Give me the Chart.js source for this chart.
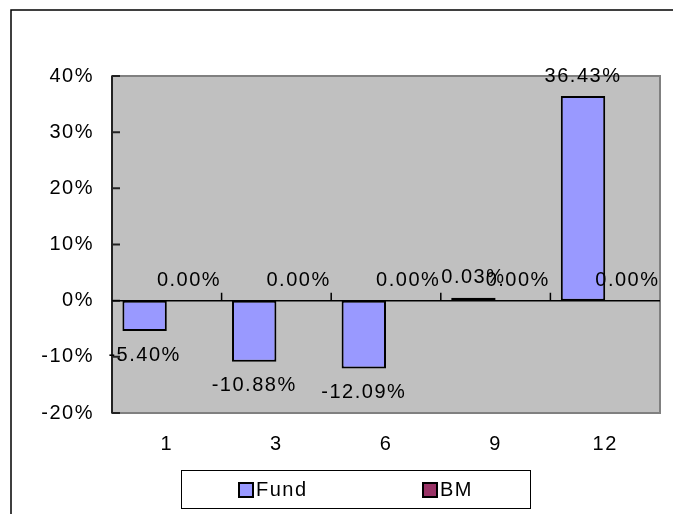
<!DOCTYPE html>
<html>
<head>
<meta charset="utf-8">
<script src="https://cdn.jsdelivr.net/npm/chart.js@4"></script>
<style>
  html, body { margin: 0; padding: 0; background: #fff; }
  #wrap { width: 673px; height: 514px; position: relative; }
</style>
</head>
<body>
<div id="wrap"><canvas id="returnsChart"></canvas></div>
<script>
document.addEventListener("DOMContentLoaded", function () {
    // Periods (months) and returns in percent
    const periods = ["1", "3", "6", "9", "12"];
    const fundValues = [-5.40, -10.88, -12.09, 0.03, 36.43];
    const bmValues = [0, 0, 0, 0, 0];
    const yTicks = [-20, -10, 0, 10, 20, 30, 40];

    const FONT = "'Liberation Sans', Arial, sans-serif";
    const FONT_SIZE = 20;
    const SPACING = "1.5px";

    // background, outer frame, plot area, axis lines, labels, legend
    const framePlugin = {
        id: "frame",
        beforeLayout(chart) {
            chart.ctx.letterSpacing = SPACING;
        },
        beforeDraw(chart) {
            const ctx = chart.ctx;
            const a = chart.chartArea;
            ctx.letterSpacing = SPACING;
            ctx.save();
            ctx.fillStyle = "#ffffff";
            ctx.fillRect(0, 0, chart.width, chart.height);
            ctx.strokeStyle = "#000000";
            ctx.lineWidth = 1.5;
            ctx.strokeRect(11, 10, chart.width + 20, chart.height + 20);
            ctx.fillStyle = "#c0c0c0";
            ctx.fillRect(a.left, a.top, a.right - a.left, a.bottom - a.top);
            ctx.strokeStyle = "#808080";
            ctx.lineWidth = 2;
            ctx.strokeRect(a.left, a.top, a.right - a.left, a.bottom - a.top);
            ctx.restore();
        },
        beforeDatasetsDraw(chart) {
            const ctx = chart.ctx;
            const a = chart.chartArea;
            const x = chart.scales.x;
            const y = chart.scales.y;
            const y0 = y.getPixelForValue(0);
            ctx.save();
            ctx.strokeStyle = "#222222";
            ctx.lineWidth = 2;
            // y axis line and inward ticks
            ctx.beginPath();
            ctx.moveTo(a.left, a.top);
            ctx.lineTo(a.left, a.bottom);
            yTicks.forEach(function (v) {
                const py = y.getPixelForValue(v);
                ctx.moveTo(a.left, py);
                ctx.lineTo(a.left + 8, py);
            });
            ctx.stroke();
            // zero line with category ticks
            ctx.lineWidth = 1.5;
            ctx.strokeStyle = "#000000";
            ctx.beginPath();
            ctx.moveTo(a.left, y0);
            ctx.lineTo(a.right, y0);
            for (let i = 1; i < periods.length; i++) {
                const px = (x.getPixelForValue(i - 1) + x.getPixelForValue(i)) / 2;
                ctx.moveTo(px, y0);
                ctx.lineTo(px, y0 - 8);
            }
            ctx.stroke();
            ctx.restore();
        },
        afterDatasetsDraw(chart) {
            // value labels above / below each bar
            const ctx = chart.ctx;
            ctx.save();
            ctx.font = FONT_SIZE + "px " + FONT;
            ctx.fillStyle = "#000000";
            ctx.textAlign = "center";
            ctx.textBaseline = "middle";
            chart.data.datasets.forEach(function (ds, di) {
                const meta = chart.getDatasetMeta(di);
                meta.data.forEach(function (bar, i) {
                    const v = ds.data[i];
                    const py = v < 0 ? bar.y + 24 : bar.y - 20;
                    ctx.fillText(v.toFixed(2) + "%", bar.x, py);
                });
            });
            ctx.restore();
        },
        afterDraw(chart) {
            // boxed legend
            const ctx = chart.ctx;
            ctx.save();
            ctx.strokeStyle = "#000000";
            ctx.lineWidth = 1;
            ctx.strokeRect(181.5, 470.5, 349, 38);
            ctx.font = FONT_SIZE + "px " + FONT;
            ctx.textBaseline = "middle";
            const starts = [239, 423];
            chart.data.datasets.forEach(function (ds, di) {
                const sx = starts[di];
                ctx.fillStyle = ds.backgroundColor;
                ctx.fillRect(sx, 483, 14, 14);
                ctx.lineWidth = 2;
                ctx.strokeRect(sx, 483, 14, 14);
                ctx.fillStyle = "#000000";
                ctx.fillText(ds.label, sx + 17, 490);
            });
            ctx.restore();
        }
    };

    const ctx = document.getElementById("returnsChart").getContext("2d");
    new Chart(ctx, {
        type: "bar",
        data: {
            labels: periods,
            datasets: [{
                label: "Fund",
                data: fundValues,
                backgroundColor: "#9999ff",
                borderColor: "#000000",
                borderWidth: 2,
                borderSkipped: false,
                minBarLength: 3
            }, {
                label: "BM",
                data: bmValues,
                backgroundColor: "#993366",
                borderColor: "#000000",
                borderWidth: 0,
                borderSkipped: false
            }]
        },
        options: {
            responsive: true,
            maintainAspectRatio: false,
            animation: false,
            devicePixelRatio: 1,
            layout: { padding: { left: 0, top: 76, right: 13, bottom: 51 } },
            datasets: { bar: { barPercentage: 1, categoryPercentage: 0.81 } },
            plugins: { legend: { display: false }, tooltip: { enabled: false } },
            scales: {
                x: {
                    grid: { display: false, drawTicks: false },
                    border: { display: false },
                    ticks: { color: "#000000", padding: 19, font: { family: FONT, size: FONT_SIZE } },
                    afterFit(scale) { scale.height = 50; }
                },
                y: {
                    min: -20,
                    max: 40,
                    grid: { display: false, drawTicks: false },
                    border: { display: false },
                    afterBuildTicks(scale) {
                        scale.ticks = yTicks.map(function (v) { return { value: v }; });
                    },
                    ticks: {
                        color: "#000000",
                        padding: 18,
                        font: { family: FONT, size: FONT_SIZE },
                        callback: function (v) { return v + "%"; }
                    },
                    afterFit(scale) { scale.width = 112; }
                }
            }
        },
        plugins: [framePlugin]
    });
});
</script>
</body>
</html>
